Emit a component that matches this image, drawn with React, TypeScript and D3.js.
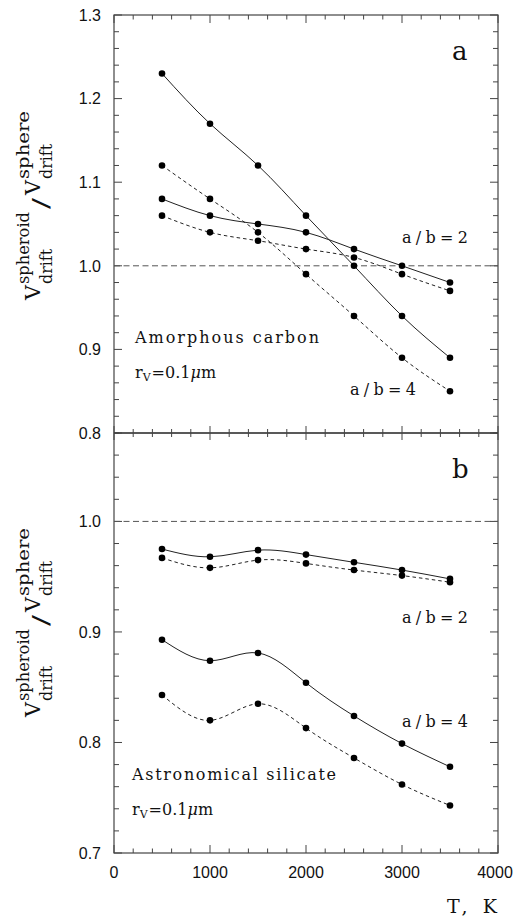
import { useEffect, useRef } from 'react'
import * as d3 from 'd3'

const temps = [500, 1000, 1500, 2000, 2500, 3000, 3500]

// panel a: amorphous carbon
const carbonAB4 = [1.23, 1.17, 1.12, 1.06, 1.0, 0.94, 0.89]
const carbonAB4Dash = [1.12, 1.08, 1.04, 0.99, 0.94, 0.89, 0.85]
const carbonAB2 = [1.08, 1.06, 1.05, 1.04, 1.02, 1.0, 0.98]
const carbonAB2Dash = [1.06, 1.04, 1.03, 1.02, 1.01, 0.99, 0.97]

// panel b: astronomical silicate
const silicateAB2 = [0.975, 0.968, 0.974, 0.97, 0.963, 0.956, 0.948]
const silicateAB2Dash = [0.967, 0.958, 0.965, 0.962, 0.956, 0.951, 0.945]
const silicateAB4 = [0.893, 0.874, 0.881, 0.854, 0.824, 0.799, 0.778]
const silicateAB4Dash = [0.843, 0.82, 0.835, 0.813, 0.786, 0.762, 0.743]

const xTicks = [0, 1000, 2000, 3000, 4000]
const carbonYTicks = [0.8, 0.9, 1.0, 1.1, 1.2, 1.3]
const silicateYTicks = [0.7, 0.8, 0.9, 1.0]

const W = 525
const H = 919
const left = 114
const right = 498
const top = 15
const mid = 433
const bottom = 853

const serif = 'DejaVu Serif'
const sans = 'Liberation Sans'
const ink = '#111'
const frame = '#444'

function App() {
  const ref = useRef<SVGSVGElement | null>(null)

  useEffect(() => {
    const svg = d3.select(ref.current)
    svg.selectAll('*').remove()

    const x = d3.scaleLinear().domain([0, 4000]).range([left, right])
    const yA = d3.scaleLinear().domain([0.8, 1.3]).range([mid, top])
    const yB = d3.scaleLinear().domain([0.7, 1.08]).range([bottom, mid])

    const xMinor = d3.range(0, 4001, 200)

    // frame
    svg
      .append('rect')
      .attr('x', left)
      .attr('y', top)
      .attr('width', right - left)
      .attr('height', bottom - top)
      .attr('fill', 'none')
      .attr('stroke', frame)
      .attr('stroke-width', 1.2)
    svg
      .append('line')
      .attr('x1', left)
      .attr('x2', right)
      .attr('y1', mid)
      .attr('y2', mid)
      .attr('stroke', '#222')
      .attr('stroke-width', 1.3)

    // x ticks: top edge (down), middle (both), bottom (up)
    const g = svg.append('g').attr('stroke', frame).attr('stroke-width', 1)
    xMinor.forEach((v) => {
      const major = v % 1000 === 0
      const len = major ? 8 : 4.5
      const px = x(v)
      g.append('line').attr('x1', px).attr('x2', px).attr('y1', top).attr('y2', top + len)
      g.append('line').attr('x1', px).attr('x2', px).attr('y1', bottom).attr('y2', bottom - len)
      g.append('line')
        .attr('x1', px)
        .attr('x2', px)
        .attr('y1', mid - (major ? 7 : 4))
        .attr('y2', mid + (major ? 7 : 4))
    })

    // y ticks on both sides
    const yTicksFor = (y: d3.ScaleLinear<number, number>, lo: number, hi: number) => {
      d3.range(Math.round(lo * 100), Math.round(hi * 100) + 1, 2).forEach((c) => {
        const v = c / 100
        const major = c % 10 === 0
        const len = major ? 8 : 5
        const py = y(v)
        g.append('line').attr('x1', left).attr('x2', left + len).attr('y1', py).attr('y2', py)
        g.append('line').attr('x1', right).attr('x2', right - len).attr('y1', py).attr('y2', py)
      })
    }
    yTicksFor(yA, 0.8, 1.3)
    yTicksFor(yB, 0.7, 1.08)

    // tick labels
    const tickText = svg
      .append('g')
      .attr('font-family', sans)
      .attr('font-size', 16)
      .attr('fill', ink)
    carbonYTicks.forEach((v) => {
      tickText
        .append('text')
        .attr('x', 101)
        .attr('y', yA(v))
        .attr('dy', '0.36em')
        .attr('text-anchor', 'end')
        .text(v.toFixed(1))
    })
    silicateYTicks.forEach((v) => {
      tickText
        .append('text')
        .attr('x', 101)
        .attr('y', yB(v))
        .attr('dy', '0.36em')
        .attr('text-anchor', 'end')
        .text(v.toFixed(1))
    })
    xTicks.forEach((v) => {
      tickText
        .append('text')
        .attr('x', x(v) - (v === 4000 ? 3 : 0))
        .attr('y', 878)
        .attr('text-anchor', 'middle')
        .text(String(v))
    })

    // reference line at 1.0
    ;[yA, yB].forEach((y) => {
      svg
        .append('line')
        .attr('x1', left)
        .attr('x2', right)
        .attr('y1', y(1.0))
        .attr('y2', y(1.0))
        .attr('stroke', '#555')
        .attr('stroke-width', 1)
        .attr('stroke-dasharray', '6 3.5')
    })

    const drawSeries = (
      y: d3.ScaleLinear<number, number>,
      vals: number[],
      dashed: boolean,
    ) => {
      const pts = temps.map((t, i) => [t, vals[i]] as [number, number])
      const line = d3
        .line<[number, number]>()
        .x((d) => x(d[0]))
        .y((d) => y(d[1]))
        .curve(d3.curveNatural)
      svg
        .append('path')
        .attr('d', line(pts))
        .attr('fill', 'none')
        .attr('stroke', '#222')
        .attr('stroke-width', 1)
        .attr('stroke-dasharray', dashed ? '3.5 3' : null)
      svg
        .append('g')
        .selectAll('circle')
        .data(pts)
        .enter()
        .append('circle')
        .attr('cx', (d) => x(d[0]))
        .attr('cy', (d) => y(d[1]))
        .attr('r', 3.3)
        .attr('fill', '#000')
    }
    drawSeries(yA, carbonAB4, false)
    drawSeries(yA, carbonAB4Dash, true)
    drawSeries(yA, carbonAB2, false)
    drawSeries(yA, carbonAB2Dash, true)
    drawSeries(yB, silicateAB2, false)
    drawSeries(yB, silicateAB2Dash, true)
    drawSeries(yB, silicateAB4, false)
    drawSeries(yB, silicateAB4Dash, true)

    // annotations
    const label = (
      tx: number,
      ty: number,
      s: string,
      size: number,
      len?: number,
    ) => {
      const t = svg
        .append('text')
        .attr('x', tx)
        .attr('y', ty)
        .attr('font-family', serif)
        .attr('font-size', size)
        .attr('fill', ink)
        .text(s)
      if (len) t.attr('textLength', len).attr('lengthAdjust', 'spacing')
      return t
    }
    label(452, 60, 'a', 26)
    label(452, 478, 'b', 26)
    label(402, 243, 'a/b=2', 16, 66)
    label(350, 395, 'a/b=4', 16, 66)
    label(402, 623, 'a/b=2', 16, 66)
    label(402, 727, 'a/b=4', 16, 66)
    label(135, 343, 'Amorphous carbon', 16, 184)
    label(132, 780, 'Astronomical silicate', 16, 204)

    const rvLabel = (tx: number, ty: number) => {
      const t = svg
        .append('text')
        .attr('x', tx)
        .attr('y', ty)
        .attr('font-family', serif)
        .attr('font-size', 16)
        .attr('fill', ink)
      t.append('tspan').text('r')
      t.append('tspan').attr('font-size', 11).attr('dy', 3).text('V')
      t.append('tspan').attr('dy', -3).attr('dx', 1).text('=0.1')
      t.append('tspan').attr('font-style', 'italic').text('μ')
      t.append('tspan').text('m')
    }
    rvLabel(135, 378)
    rvLabel(132, 815)

    // T, K
    label(447, 913, 'T,  K', 19, 50)

    // rotated y-axis labels
    const yLabel = (cy: number) => {
      const gl = svg.append('g').attr('transform', `translate(40,${cy}) rotate(-90)`)
      const part = (
        px: number,
        py: number,
        s: string,
        size: number,
        len: number,
      ) => {
        gl.append('text')
          .attr('x', px)
          .attr('y', py)
          .attr('font-family', serif)
          .attr('font-size', size)
          .attr('fill', ink)
          .attr('textLength', len)
          .attr('lengthAdjust', 'spacingAndGlyphs')
          .text(s)
      }
      part(-95, 0, 'V', 20, 15)
      part(-79, -11, 'spheroid', 16, 72)
      part(-79, 12, 'drift', 16, 35)
      part(-4, 8, '/', 22, 11)
      part(10, 0, 'V', 20, 15)
      part(26, -11, 'sphere', 16, 68)
      part(26, 12, 'drift', 16, 35)
    }
    yLabel(205)
    yLabel(622)
  }, [])

  return (
    <svg
      ref={ref}
      width={W}
      height={H}
      viewBox={`0 0 ${W} ${H}`}
      style={{ position: 'absolute', left: 0, top: 0, background: '#fff' }}
    />
  )
}

export default App
